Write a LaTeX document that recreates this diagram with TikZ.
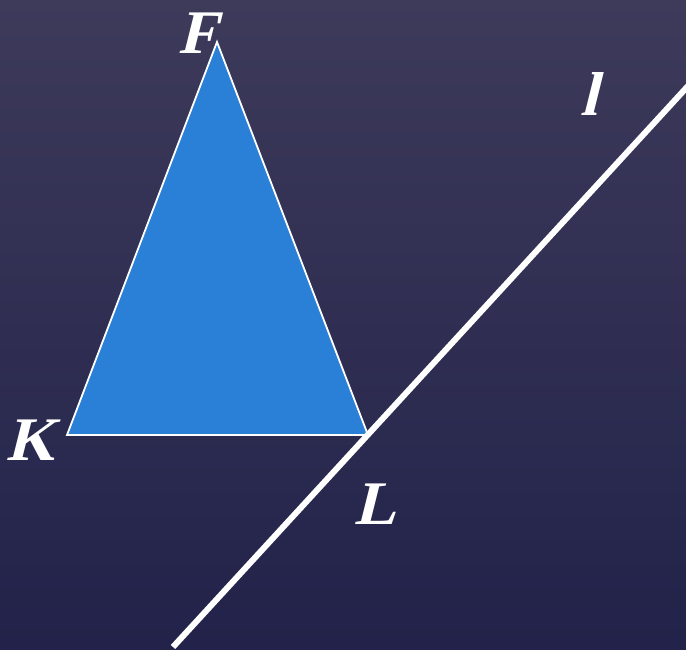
\documentclass[tikz,border=0pt]{standalone}
\usepackage{fontspec}
\newfontfamily\lblfont[UprightFont={* Bold},FakeSlant=0.25]{Liberation Serif}
\begin{document}
\begin{tikzpicture}[x=1pt,y=1pt,
  lbl/.style={text=white,font=\lblfont\fontsize{62}{62}\selectfont,inner sep=0pt}]
\definecolor{bgtop}{HTML}{3D3A5A}
\definecolor{bgbot}{HTML}{22224A}
\definecolor{tri}{HTML}{2A7FD6}
\shade[top color=bgtop,bottom color=bgbot] (0,0) rectangle (686,649);
\useasboundingbox (0,0) rectangle (686,649);
\coordinate (F) at (217,607);
\coordinate (K) at (67,214);
\coordinate (L) at (368,214);
\coordinate (l1) at (173,2);
\coordinate (l2) at (688,563);
\filldraw[fill=tri,draw=white,line width=1.8pt,line join=miter] (F) -- (K) -- (L) -- cycle;
\draw[white,line width=6pt] (l1) -- (l2);
\node[lbl] (nF) at (197,616) {F};
\node[lbl] (nK) at (31,209) {K};
\node[lbl] (nL) at (375,145) {L};
\node[lbl] (nl) at (589,555) {l};
\end{tikzpicture}
\end{document}
